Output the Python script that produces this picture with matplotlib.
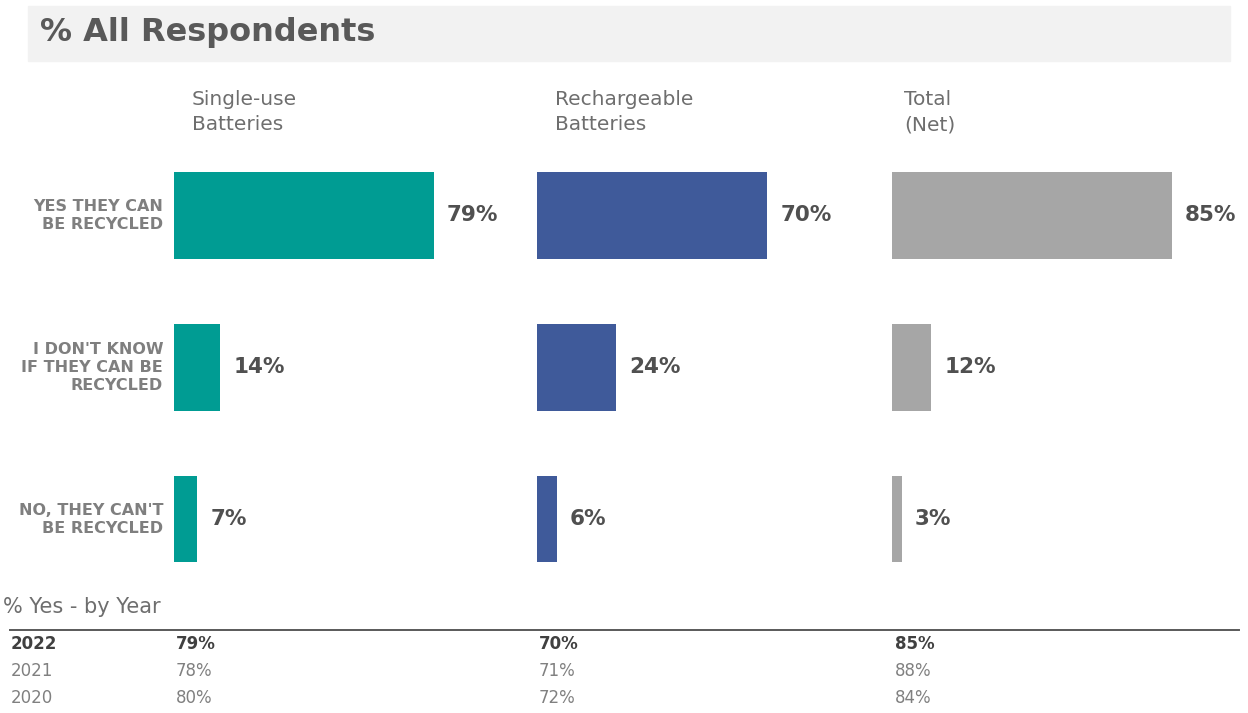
import matplotlib.pyplot as plt
from matplotlib.patches import Rectangle

categories = ["YES THEY CAN\nBE RECYCLED",
              "I DON'T KNOW\nIF THEY CAN BE\nRECYCLED",
              "NO, THEY CAN'T\nBE RECYCLED"]
panel_titles = ["Single-use\nBatteries", "Rechargeable\nBatteries", "Total\n(Net)"]
single_use = [79, 14, 7]
rechargeable = [70, 24, 6]
total_net = [85, 12, 3]
years = ["2022", "2021", "2020"]
yes_single = [79, 78, 80]
yes_recharge = [70, 71, 72]
yes_total = [85, 88, 84]

bar_colors = ["#009C93", "#3F5A9A", "#A6A6A6"]
W, H = 1248, 713

def fx(px):
    return px / W

def fy(py):
    return 1 - py / H

plt.rcParams['font.family'] = ['DejaVu Sans']
fig = plt.figure(figsize=(W / 100, H / 100), dpi=100)

# header band
fig.patches.append(Rectangle((fx(28), fy(61)), fx(1230 - 28), 55 / H,
                             transform=fig.transFigure, color="#F2F2F2", zorder=0))
fig.text(fx(40), fy(33), "% All Respondents", fontsize=23, fontweight="bold",
         color="#595959", va="center", ha="left")

# three bar panels
lefts = [174, 537, 892]
head_x = [192, 555, 904]
series = [single_use, rechargeable, total_net]
top, bottom = 139.5, 595
for i, vals in enumerate(series):
    ax = fig.add_axes([fx(lefts[i]), fy(bottom), 329 / W, (bottom - top) / H])
    ypos = range(len(vals))
    ax.barh(ypos, vals, height=0.57, color=bar_colors[i], edgecolor="none")
    for y, v in zip(ypos, vals):
        ax.text(v + 4, y, f"{v}%", va="center", ha="left", fontsize=15.5,
                fontweight="bold", color="#505050")
    ax.set_xlim(0, 100)
    ax.set_ylim(2.5, -0.5)
    ax.axis("off")
    fig.text(fx(head_x[i]), fy(112), panel_titles[i], fontsize=14.5, color="#6E6E6E",
             va="center", ha="left", linespacing=1.45)
    if i == 0:
        for y, lab in zip(ypos, categories):
            ax.text(-3.3, y, lab, va="center", ha="right", fontsize=11.5,
                    fontweight="bold", color="#7F7F7F", linespacing=1.25)

# yearly table
fig.text(fx(3), fy(607), "% Yes - by Year", fontsize=15, color="#6E6E6E",
         va="center", ha="left")
fig.add_artist(plt.Line2D([fx(10), fx(1239)], [fy(630), fy(630)],
                          color="#595959", lw=1.4))
row_y = [644, 671, 698]
col_x = [176, 539, 895]
cols = [yes_single, yes_recharge, yes_total]
for r, yr in enumerate(years):
    bold = r == 0
    weight = "bold" if bold else "normal"
    color = "#404040" if bold else "#808080"
    fig.text(fx(11), fy(row_y[r]), yr, fontsize=12, fontweight=weight,
             color=color, va="center", ha="left")
    for c, col in enumerate(cols):
        fig.text(fx(col_x[c]), fy(row_y[r]), f"{col[r]}%", fontsize=12,
                 fontweight=weight, color=color, va="center", ha="left")

fig.savefig("out.png", dpi=100, facecolor="white")
